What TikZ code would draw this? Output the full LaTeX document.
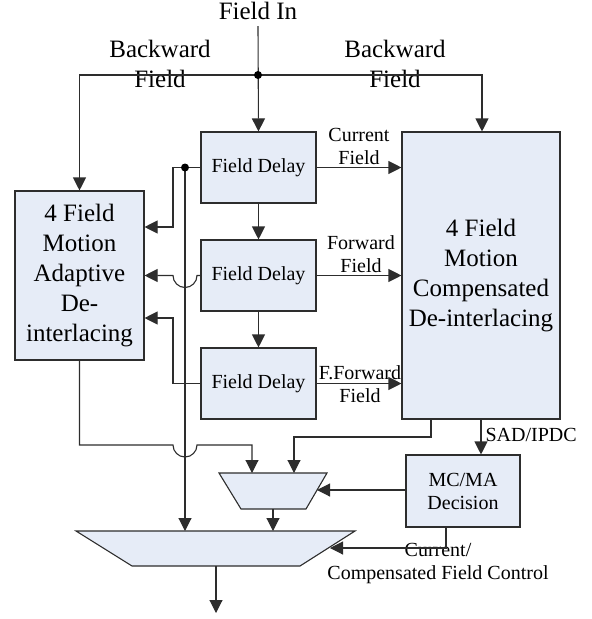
\documentclass[tikz,border=0pt]{standalone}
\usepackage{fontspec}
\setmainfont{Liberation Serif}
\usetikzlibrary{arrows.meta}
\definecolor{boxfill}{RGB}{230,236,247}
\definecolor{linecol}{RGB}{45,45,45}
\tikzset{tip/.tip={Triangle[length=13pt,width=13pt]}}
\begin{document}
\begin{tikzpicture}[x=1pt,y=-1pt,
  line width=1.1pt,
  big/.style={font=\fontsize{25}{30}\selectfont},
  small/.style={font=\fontsize{20}{23}\selectfont},
  block/.style={draw=linecol,fill=boxfill,inner sep=0pt,align=center},
  lab/.style={inner sep=0pt,align=center},
  conn/.style={draw=linecol,-tip},
  dotc/.style={fill=black,circle,inner sep=0pt,minimum size=8pt}]
\useasboundingbox (0,0) rectangle (592,619);

% blocks
\node[block,small,minimum width=115pt,minimum height=71pt] (fd1) at (258.5,167.5) {Field Delay};
\node[block,small,minimum width=115pt,minimum height=71pt] (fd2) at (258.5,275.5) {Field Delay};
\node[block,small,minimum width=115pt,minimum height=71pt] (fd3) at (258.5,383.5) {Field Delay};
\node[block,big,minimum width=129pt,minimum height=169pt] (ma) at (79.5,275.5) {4 Field\\Motion\\Adaptive\\De-\\interlacing};
\node[block,big,minimum width=158pt,minimum height=287pt] (mc) at (481,275.5) {4 Field\\Motion\\Compensated\\De-interlacing};
\node[block,small,minimum width=114pt,minimum height=72pt] (dec) at (463,491) {MC/MA\\Decision};

% selectors (trapezoids)
\draw[linecol,fill=boxfill] (219,473) -- (327,473) -- (306,509) -- (241,509) -- cycle;
\draw[linecol,fill=boxfill] (76,531) -- (355,531) -- (300,566) -- (132,566) -- cycle;
\coordinate (selA) at (252,473);
\coordinate (selB) at (294,473);
\coordinate (selC) at (317,490);
\coordinate (selOut) at (273,509);
\coordinate (mxA) at (185,531);
\coordinate (mxB) at (273,531);
\coordinate (mxC) at (330,548);
\coordinate (mxOut) at (216,566);
\coordinate (out) at (216,613);

% labels (anchored at the baseline of their last line)
\node[lab,big,anchor=base] (fin) at (258,19) {Field In};
\node[lab,big,anchor=base] (bwl) at (160,87) {Backward\\Field};
\node[lab,big,anchor=base] (bwr) at (395,87) {Backward\\Field};
\node[lab,small,anchor=base] (lcur) at (359,164) {Current\\Field};
\node[lab,small,anchor=base] (lfwd) at (361,272) {Forward\\Field};
\node[lab,small,anchor=base] (lffw) at (360,402) {F.Forward\\Field};
\node[lab,small,anchor=base west] (lsad) at (485,441) {SAD/IPDC};
\node[lab,small,anchor=base] (lctl) at (438,579) {Current/\\Compensated Field Control};

% input and backward field distribution
\coordinate (split) at (258,75);
\coordinate (fintop) at (258,26);
\draw[conn] (fintop) -- (fd1.north);
\draw[conn] (split) -| (ma.north);
\draw[conn] (split) -| (mc.north -| 482,0);
\node[dotc] (dsplit) at (split) {};

% delay chain
\draw[conn] (fd1.south) -- (fd2.north);
\draw[conn] (fd2.south) -- (fd3.north);

% fields into the compensated de-interlacer
\draw[conn] (fd1.east) -- (fd1.east -| mc.west);
\draw[conn] (fd2.east) -- (fd2.east -| mc.west);
\draw[conn] (fd3.east) -- (fd3.east -| mc.west);

% fields into the adaptive de-interlacer
\coordinate (tap) at (185,167.5);
\draw[conn] (fd1.west) -- (173,167.5) -- (173,227) -- (ma.east |- 0,227);
\draw[conn] (fd2.west) -- (197,275.5) arc[start angle=0,end angle=180,radius=12] -- (ma.east);
\draw[conn] (fd3.west) -- (173,383.5) -- (173,318) -- (ma.east |- 0,318);
\draw[conn] (tap) -- (mxA);
\node[dotc] (dtap) at (tap) {};

% de-interlacer outputs into the first selector
\draw[conn] (ma.south) -- (79.5,445) -- (173,445) arc[start angle=180,end angle=0,radius=12] -- (252,445) -- (selA);
\draw[conn] (mc.south -| 431,0) -- (431,437) -- (294,437) -- (selB);

% decision logic
\draw[conn] (mc.south -| 481,0) -- (dec.north -| 481,0);
\draw[conn] (dec.west |- selC) -- (selC);
\draw[conn] (dec.south -| 446,0) -- (446,548) -- (mxC);

% selector chain and output
\draw[conn] (selOut) -- (mxB);
\draw[conn] (mxOut) -- (out);
\end{tikzpicture}
\end{document}
